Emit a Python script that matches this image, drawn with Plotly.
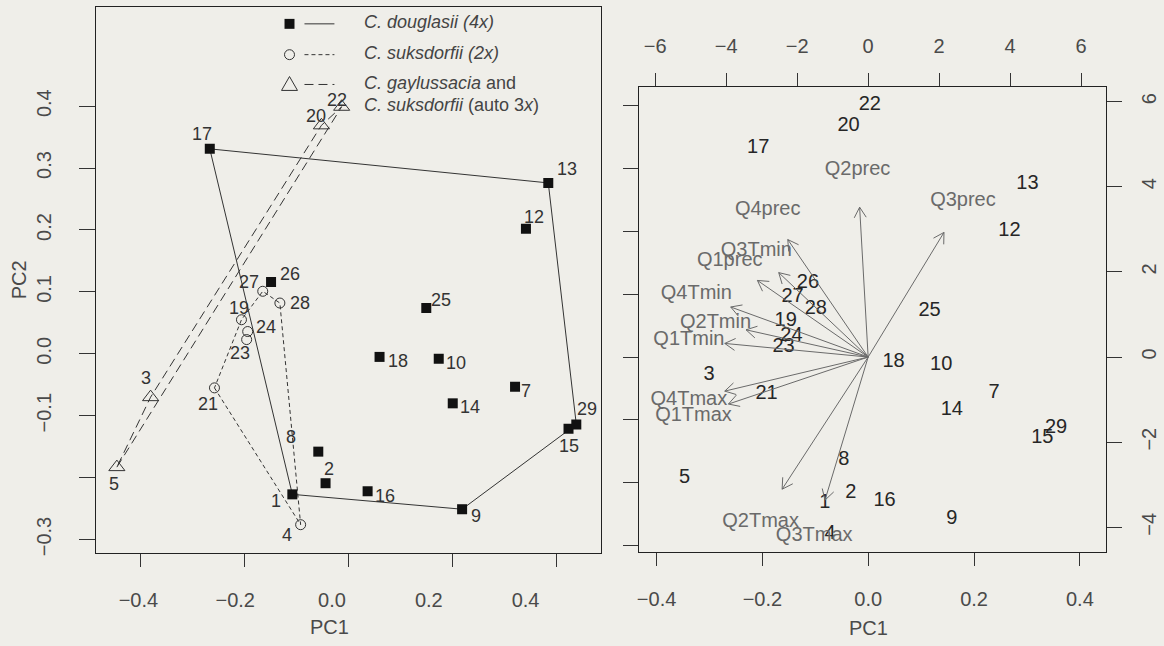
import math
import plotly.graph_objects as go

# ---------------- data ----------------
# Left panel: PCA scores of populations
POP_IDS = [1, 2, 3, 4, 5, 7, 8, 9, 10, 12, 13, 14, 15, 16, 17, 18, 19, 20, 21, 22, 23, 24, 25, 26, 27, 28, 29]
POP_PC1 = [-0.108, -0.044, -0.381, -0.092, -0.446, 0.321, -0.058, 0.219, 0.174, 0.342, 0.385, 0.201, 0.424,
           0.037, -0.267, 0.060, -0.206, -0.052, -0.258, -0.013, -0.196, -0.194, 0.150, -0.149, -0.165, -0.132, 0.439]
POP_PC2 = [-0.227, -0.209, -0.070, -0.276, -0.183, -0.053, -0.158, -0.251, -0.008, 0.202, 0.276, -0.080, -0.121,
           -0.222, 0.331, -0.005, 0.055, 0.369, -0.055, 0.399, 0.023, 0.036, 0.074, 0.116, 0.101, 0.082, -0.114]
POP_GROUP = ["D", "D", "G", "S", "G", "D", "D", "D", "D", "D", "D", "D", "D",
             "D", "D", "D", "S", "G", "S", "G", "S", "S", "D", "D", "S", "S", "D"]

# Right panel: biplot scores
BI_IDS = [1, 2, 3, 4, 5, 7, 8, 9, 10, 12, 13, 14, 15, 16, 17, 18, 19, 20, 21, 22, 23, 24, 25, 26, 27, 28, 29]
BI_PC1 = [-0.082, -0.033, -0.301, -0.072, -0.347, 0.238, -0.046, 0.158, 0.138, 0.267, 0.301, 0.158, 0.329,
          0.031, -0.208, 0.048, -0.156, -0.037, -0.192, 0.003, -0.160, -0.145, 0.116, -0.114, -0.143, -0.099, 0.355]
BI_PC2 = [-0.232, -0.216, -0.028, -0.282, -0.192, -0.057, -0.163, -0.258, -0.012, 0.201, 0.275, -0.084, -0.128,
          -0.229, 0.332, -0.008, 0.057, 0.367, -0.058, 0.400, 0.016, 0.034, 0.073, 0.117, 0.096, 0.077, -0.112]

# Right panel: variable loadings
VAR_NAMES = ["Q1Tmin", "Q2Tmin", "Q3Tmin", "Q4Tmin", "Q1Tmax", "Q2Tmax", "Q3Tmax", "Q4Tmax",
             "Q1prec", "Q2prec", "Q3prec", "Q4prec"]
VAR_L1 = [-5.05, -4.30, -3.15, -4.84, -4.92, -3.03, -1.52, -5.05, -3.90, -0.30, 2.67, -2.83]
VAR_L2 = [0.40, 0.80, 2.48, 1.47, -1.38, -3.88, -4.20, -1.00, 2.25, 4.40, 3.66, 3.45]

# Tick labels
L_XTICKS = [-0.4, -0.2, 0.0, 0.2, 0.4]
L_XTEXT = ["\u22120.4", "\u22120.2", "0.0", "0.2", "0.4"]
L_YTICKS = [-0.3, -0.2, -0.1, 0.0, 0.1, 0.2, 0.3, 0.4]
L_YTEXT = ["\u22120.3", "", "\u22120.1", "0.0", "0.1", "0.2", "0.3", "0.4"]
R_XTICKS = [-0.4, -0.2, 0.0, 0.2, 0.4]
R_XTEXT = ["\u22120.4", "\u22120.2", "0.0", "0.2", "0.4"]
R_YTICKS = [-0.3, -0.2, -0.1, 0.0, 0.1, 0.2, 0.3, 0.4]
TOP_TICKS = [-6, -4, -2, 0, 2, 4, 6]
TOP_TEXT = ["\u22126", "\u22124", "\u22122", "0", "2", "4", "6"]
RIGHT_TICKS = [-4, -2, 0, 2, 4, 6]
RIGHT_TEXT = ["\u22124", "\u22122", "0", "2", "4", "6"]

LEGEND_TEXT = ["<i>C. douglasii (4x)</i>", "<i>C. suksdorfii (2x)</i>",
               "<i>C. gaylussacia</i> and", "<i>C. suksdorfii</i> (auto 3<i>x</i>)"]

# ---------------- styles / layout ----------------
W, H = 1164, 646
BG = "#efeee9"
FONT = "Liberation Sans, Arial, sans-serif"
TICKC = "#4a4a4a"

def px_x(p):
    return p / W

def px_y(p):
    return 1 - p / H

L_DOM_X = [px_x(94), px_x(600)]
L_DOM_Y = [px_y(556), px_y(7)]
L_RX = [-0.4865, 0.4865]
L_RY = [-0.321, 0.5602]
L_LABEL_RX = [-0.488, 0.5558]   # tick labels are drawn on a slightly different scale in the original

R_DOM_X = [px_x(638.3), px_x(1105.7)]
R_DOM_Y = [px_y(555.3), px_y(87.7)]
R_RX = [-0.4328, 0.449]
R_RY = [-0.3096, 0.429]
R_RX3 = [-6.45, 6.695]
R_RY3 = [-4.576, 6.34]

# label offsets for left-panel numbers (dx right, dy down, px)
LBL_OFF = {1: (-16, 7), 2: (3, -14), 3: (-5, -19), 4: (-14, 10), 5: (-3, 17), 7: (11, 4), 8: (-27, -15),
           9: (14, 7), 10: (17, 4), 12: (8, -12), 13: (19, -14), 14: (17, 4), 15: (0, 17), 16: (17, 5),
           17: (-8, -15), 18: (18, 4), 19: (-2, -12), 20: (-5, -9), 21: (-6, 16), 22: (-5, -7),
           23: (-7, 13), 24: (18, -5), 25: (15, -8), 26: (19, -8), 27: (-14, -9), 28: (20, 0), 29: (11, -15)}

GROUP_STYLE = {
    "D": dict(symbol="square", size=10, color="#111111", line=dict(width=0), dash="solid"),
    "S": dict(symbol="circle-open", size=10, color="#333333", line=dict(width=1, color="#333333"), dash="4px,3px"),
    "G": dict(symbol="triangle-up-open", size=14, color="#333333", line=dict(width=1, color="#333333"), dash="9px,5px"),
}


def hull(pts):
    pts = sorted(set(pts))
    if len(pts) < 3:
        return pts

    def cross(o, a, b):
        return (a[0] - o[0]) * (b[1] - o[1]) - (a[1] - o[1]) * (b[0] - o[0])

    lower, upper = [], []
    for p in pts:
        while len(lower) >= 2 and cross(lower[-2], lower[-1], p) <= 0:
            lower.pop()
        lower.append(p)
    for p in reversed(pts):
        while len(upper) >= 2 and cross(upper[-2], upper[-1], p) <= 0:
            upper.pop()
        upper.append(p)
    return lower[:-1] + upper[:-1]


fig = go.Figure()

# ---- left panel: hulls + points ----
for g in ["D", "S", "G"]:
    xs = [x for x, gg in zip(POP_PC1, POP_GROUP) if gg == g]
    ys = [y for y, gg in zip(POP_PC2, POP_GROUP) if gg == g]
    h = hull(list(zip(xs, ys)))
    h = h + [h[0]]
    st = GROUP_STYLE[g]
    fig.add_trace(go.Scatter(x=[p[0] for p in h], y=[p[1] for p in h], mode="lines",
                             line=dict(color="#333333", width=1, dash=st["dash"]),
                             xaxis="x", yaxis="y", hoverinfo="skip", showlegend=False))
for g in ["D", "S", "G"]:
    xs = [x for x, gg in zip(POP_PC1, POP_GROUP) if gg == g]
    ys = [y for y, gg in zip(POP_PC2, POP_GROUP) if gg == g]
    st = GROUP_STYLE[g]
    fig.add_trace(go.Scatter(x=xs, y=ys, mode="markers",
                             marker=dict(symbol=st["symbol"], size=st["size"], color=st["color"], line=st["line"]),
                             xaxis="x", yaxis="y", showlegend=False))

# invisible trace so that the label-only x axis of the left panel is drawn
fig.add_trace(go.Scatter(x=L_XTICKS, y=[None] * len(L_XTICKS), mode="markers", marker=dict(opacity=0),
                         xaxis="x4", yaxis="y", hoverinfo="skip", showlegend=False))

annotations = []
for i, x, y in zip(POP_IDS, POP_PC1, POP_PC2):
    dx, dy = LBL_OFF.get(i, (12, 0))
    annotations.append(dict(x=x, y=y, xref="x", yref="y", text=str(i), showarrow=False,
                            xshift=dx, yshift=-dy, xanchor="center", yanchor="middle",
                            font=dict(family=FONT, size=18, color="#333333")))

# ---- right panel: arrows ----
sx = (R_DOM_X[1] - R_DOM_X[0]) * W / (R_RX3[1] - R_RX3[0])
sy = (R_DOM_Y[1] - R_DOM_Y[0]) * H / (R_RY3[1] - R_RY3[0])
ax, ay = [], []
HEAD = 12.0
for l1, l2 in zip(VAR_L1, VAR_L2):
    tx, ty = 0.8 * l1, 0.8 * l2
    ax += [0, tx, None]
    ay += [0, ty, None]
    ang = math.atan2(ty * sy, tx * sx)
    for s in (1, -1):
        a2 = ang + s * math.radians(30)
        hx = tx - HEAD * math.cos(a2) / sx
        hy = ty - HEAD * math.sin(a2) / sy
        ax += [tx, hx, None]
        ay += [ty, hy, None]
fig.add_trace(go.Scatter(x=ax, y=ay, mode="lines", line=dict(color="#6a6a6a", width=1),
                         xaxis="x3", yaxis="y3", hoverinfo="skip", showlegend=False))
fig.add_trace(go.Scatter(x=VAR_L1, y=VAR_L2, mode="text", text=VAR_NAMES, textposition="middle center",
                         textfont=dict(family=FONT, size=20, color="#6a6a6a"),
                         xaxis="x3", yaxis="y3", showlegend=False))
fig.add_trace(go.Scatter(x=BI_PC1, y=BI_PC2, mode="text", text=[str(i) for i in BI_IDS],
                         textposition="middle center",
                         textfont=dict(family=FONT, size=20, color="#262626"),
                         xaxis="x2", yaxis="y2", showlegend=False))

# ---- legend (left panel) ----
shapes = []
LEG_MX, LEG_L0, LEG_L1, LEG_TX = 288, 303, 333, 361
rows = [24, 55, 85]
shapes.append(dict(type="rect", xref="paper", yref="paper", x0=px_x(LEG_MX - 5), x1=px_x(LEG_MX + 5),
                   y0=px_y(rows[0] + 5), y1=px_y(rows[0] - 5), fillcolor="#111111", line=dict(width=0)))
shapes.append(dict(type="circle", xref="paper", yref="paper", x0=px_x(LEG_MX - 5), x1=px_x(LEG_MX + 5),
                   y0=px_y(rows[1] + 5), y1=px_y(rows[1] - 5), line=dict(color="#333333", width=1)))
shapes.append(dict(type="path", xref="paper", yref="paper",
                   path="M {} {} L {} {} L {} {} Z".format(px_x(LEG_MX - 8), px_y(rows[2] + 6),
                                                          px_x(LEG_MX + 8), px_y(rows[2] + 6),
                                                          px_x(LEG_MX), px_y(rows[2] - 8)),
                   line=dict(color="#333333", width=1)))
for r, g in zip(rows, ["D", "S", "G"]):
    shapes.append(dict(type="line", xref="paper", yref="paper", x0=px_x(LEG_L0), x1=px_x(LEG_L1),
                       y0=px_y(r), y1=px_y(r), line=dict(color="#333333", width=1, dash=GROUP_STYLE[g]["dash"])))
for t, r in zip(LEGEND_TEXT, [22, 53, 84, 106]):
    annotations.append(dict(x=px_x(LEG_TX), y=px_y(r), xref="paper", yref="paper", text=t, showarrow=False,
                            xanchor="left", yanchor="middle", font=dict(family=FONT, size=18, color="#444444")))

# ---- axis titles ----
annotations.append(dict(x=px_x(17), y=px_y(281), xref="paper", yref="paper", text="PC2", showarrow=False,
                        textangle=-90, xanchor="center", yanchor="middle", font=dict(family=FONT, size=20, color=TICKC)))
annotations.append(dict(x=px_x(328), y=px_y(631), xref="paper", yref="paper", text="PC1", showarrow=False,
                        xanchor="center", yanchor="middle", font=dict(family=FONT, size=20, color=TICKC)))
annotations.append(dict(x=px_x(868), y=px_y(632), xref="paper", yref="paper", text="PC1", showarrow=False,
                        xanchor="center", yanchor="middle", font=dict(family=FONT, size=20, color=TICKC)))

tickfont = dict(family=FONT, size=20, color=TICKC)
common = dict(showgrid=False, zeroline=False, ticks="outside", tickcolor="#333333", tickwidth=1, tickfont=tickfont)

fig.update_layout(
    width=W, height=H, autosize=False,
    margin=dict(l=0, r=0, t=0, b=0, pad=0),
    paper_bgcolor=BG, plot_bgcolor=BG,
    showlegend=False,
    hovermode=False,
    xaxis=dict(domain=L_DOM_X, range=L_RX, anchor="y", tickvals=L_XTICKS, showticklabels=False, ticklen=13,
               showline=True, mirror=True, linecolor="#222222", linewidth=1, **common),
    xaxis4=dict(domain=L_DOM_X, range=L_LABEL_RX, anchor="y", overlaying="x", side="bottom",
                tickvals=L_XTICKS, ticktext=L_XTEXT, ticklen=13, showline=False,
                showgrid=False, zeroline=False, ticks="outside", tickcolor="rgba(0,0,0,0)",
                tickfont=tickfont, ticklabelstandoff=16),
    yaxis=dict(domain=L_DOM_Y, range=L_RY, anchor="x", tickvals=L_YTICKS, ticktext=L_YTEXT, ticklen=16,
               tickangle=-90, showline=True, mirror=True, linecolor="#222222", linewidth=1,
               ticklabelstandoff=20, **common),
    xaxis2=dict(domain=R_DOM_X, range=R_RX, anchor="y2", tickvals=R_XTICKS, ticktext=R_XTEXT, ticklen=13,
                showline=True, mirror=True, linecolor="#222222", linewidth=1, ticklabelstandoff=16, **common),
    yaxis2=dict(domain=R_DOM_Y, range=R_RY, anchor="x2", tickvals=R_YTICKS, showticklabels=False, ticklen=15,
                showline=True, mirror=True, linecolor="#222222", linewidth=1, **common),
    xaxis3=dict(range=R_RX3, anchor="y2", overlaying="x2", side="top", tickvals=TOP_TICKS, ticktext=TOP_TEXT,
                ticklen=13, showline=False, ticklabelstandoff=12, **common),
    yaxis3=dict(range=R_RY3, anchor="x2", overlaying="y2", side="right", tickvals=RIGHT_TICKS,
                ticktext=RIGHT_TEXT, ticklen=15, tickangle=-90, showline=False, ticklabelstandoff=10, **common),
    shapes=shapes,
    annotations=annotations,
)

fig.write_html("out.html", config={"displayModeBar": False, "staticPlot": True})

# remove the browser's default page margin so the figure sits at the window origin
with open("out.html", "r", encoding="utf-8") as f:
    html = f.read()
html = html.replace("<head>", "<head><style>html,body{margin:0;padding:0;background:%s;}</style>" % BG, 1)
with open("out.html", "w", encoding="utf-8") as f:
    f.write(html)
